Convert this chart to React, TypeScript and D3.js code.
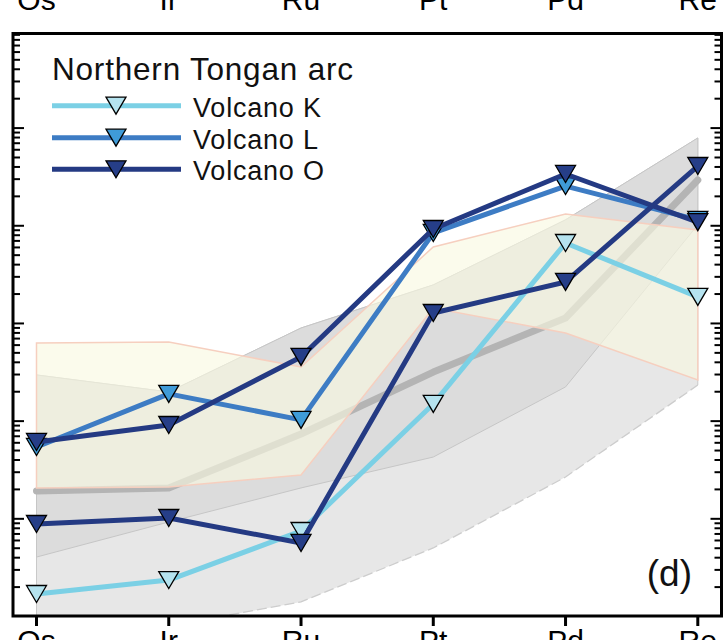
import React from "react";
import * as d3 from "d3";

// ---------- data ----------
const categories = ["Os", "Ir", "Ru", "Pt", "Pd", "Re"];

const volcanoK = [1.7e-5, 2.36e-5, 7.5e-5, 1.5e-3, 0.0666, 0.0187];
const volcanoL = [5.44e-4, 1.9e-3, 1.03e-3, 0.0844, 0.255, 0.115];
const volcanoO1 = [6.12e-4, 9.13e-4, 4.54e-3, 0.0927, 0.339, 0.109];
const volcanoO2 = [8.85e-5, 1.02e-4, 5.66e-5, 0.0128, 0.0266, 0.409];

// reference fields
const yellowUpper = [6.31e-3, 6.46e-3, 3.58e-3, 0.0607, 0.132, 0.0905];
const yellowLower = [2.07e-4, 2.12e-4, 2.81e-4, 0.0144, 7.99e-3, 2.64e-3];
const grayTop = [2.97e-3, 1.99e-3, 8.98e-3, 0.0248, 0.115, 0.792];
const grayInnerBottom = [4.06e-5, 9.28e-5, 2.07e-4, 4.29e-4, 2.24e-3, 0.102];
const grayOuterBottom = [4.54e-6, 7.99e-6, 1.41e-5, 5.03e-5, 2.68e-4, 2.34e-3];
const bandLine = [1.93e-4, 2.07e-4, 7.38e-4, 3.18e-3, 0.01137, 0.294];

const series = [
  { name: "Volcano K", values: volcanoK, line: "#7bd0e5", fill: "#b5e3ef", legend: true },
  { name: "Volcano L", values: volcanoL, line: "#3d7cc4", fill: "#3f9bd8", legend: true },
  { name: "Volcano O", values: volcanoO1, line: "#243a83", fill: "#263e88", legend: true },
  { name: "Volcano O", values: volcanoO2, line: "#243a83", fill: "#263e88", legend: false },
];

const FONT = "'Liberation Sans', Arial, sans-serif";

export default function App() {
  const W = 724;
  const H = 640;
  const frame = { left: 13, right: 721.5, top: 33.5, bottom: 616 };

  const x = d3.scalePoint<string>().domain(categories).range([36.5, 697.8]);
  const y = d3.scaleLog().domain([1e-5, 10]).range([616.5, 30.4]);

  const areaGen = (upper: number[], lower: number[]) =>
    d3
      .area<number>()
      .x((_, i) => x(categories[i]) as number)
      .y0((_, i) => y(lower[i]))
      .y1((_, i) => y(upper[i]))(categories.map((_, i) => i));

  const lineGen = (vals: number[]) =>
    d3
      .line<number>()
      .x((_, i) => x(categories[i]) as number)
      .y((v) => y(v))(vals);

  const tri = "M-10,-8.5L10,-8.5L0,8.5Z";

  const xs = categories.map((c) => x(c) as number);
  const outerTopPath =
    `M${xs[0]},${y(grayOuterBottom[0])}L${xs[0]},${y(grayTop[0])}` +
    grayTop.slice(1).map((v, i) => `L${xs[i + 1]},${y(v)}`).join("") +
    `L${xs[5]},${y(grayOuterBottom[5])}`;
  const outerBottomPath = lineGen(grayOuterBottom) as string;

  const ticks = y.ticks();
  const isMajor = (v: number) => Math.abs(Math.log10(v) - Math.round(Math.log10(v))) < 1e-9;
  const tickVals = ticks.filter((v) => y(v) > frame.top + 1 && y(v) < frame.bottom - 1);

  const legendY = [105.7, 137.7, 169.3];

  return (
    <svg
      width={W}
      height={H}
      style={{ position: "absolute", left: 0, top: 0, background: "#fff" }}
      fontFamily={FONT}
    >
      <defs>
        <clipPath id="plotClip">
          <rect
            x={frame.left}
            y={frame.top}
            width={frame.right - frame.left}
            height={frame.bottom - frame.top}
          />
        </clipPath>
      </defs>

      <g clipPath="url(#plotClip)">
        <path d={areaGen(grayTop, grayOuterBottom) as string} fill="#e7e7e7" stroke="none" />
        <path d={outerTopPath} fill="none" stroke="#c9c9c9" strokeWidth={1} />
        <path d={outerBottomPath} fill="none" stroke="#cdcdcd" strokeWidth={1.3} strokeDasharray="10 4" />
        <path
          d={areaGen(grayTop, grayInnerBottom) as string}
          fill="#dcdcdc"
          stroke="#c6c6c6"
          strokeWidth={1}
        />
        <path
          d={lineGen(bandLine) as string}
          fill="none"
          stroke="#b4b4b4"
          strokeWidth={7}
          strokeLinecap="round"
          strokeLinejoin="round"
        />
        <path
          d={areaGen(yellowUpper, yellowLower) as string}
          fill="rgb(249,249,225)"
          fillOpacity={0.63}
          stroke="#f6cfbf"
          strokeWidth={1.5}
        />
      </g>

      {series.map((s, si) => (
        <g key={si}>
          <path
            d={lineGen(s.values) as string}
            fill="none"
            stroke={s.line}
            strokeWidth={5}
            strokeLinejoin="round"
          />
          {s.values.map((v, i) => (
            <path
              key={i}
              d={tri}
              transform={`translate(${x(categories[i])},${y(v)})`}
              fill={s.fill}
              stroke="#000"
              strokeWidth={1.3}
            />
          ))}
        </g>
      ))}

      <rect
        x={frame.left}
        y={frame.top}
        width={frame.right - frame.left}
        height={frame.bottom - frame.top}
        fill="none"
        stroke="#000"
        strokeWidth={3}
      />

      {tickVals.map((v, i) => {
        const yy = y(v);
        const len = isMajor(v) ? 11 : 7;
        return (
          <g key={i}>
            <line x1={frame.left} x2={frame.left + len} y1={yy} y2={yy} stroke="#000" strokeWidth={2} />
            <line x1={frame.right} x2={frame.right - len} y1={yy} y2={yy} stroke="#000" strokeWidth={2} />
          </g>
        );
      })}

      {categories.map((c) => (
        <line
          key={c}
          x1={x(c)}
          x2={x(c)}
          y1={frame.bottom}
          y2={frame.bottom + 10}
          stroke="#000"
          strokeWidth={3}
        />
      ))}

      {categories.map((c) => (
        <text key={"t" + c} x={x(c)} y={10} fontSize={30} textAnchor="middle" fill="#000">
          {c}
        </text>
      ))}
      {categories.map((c) => (
        <text key={"b" + c} x={x(c)} y={651} fontSize={30} textAnchor="middle" fill="#000">
          {c}
        </text>
      ))}

      <text x={52} y={80} fontSize={31.5} letterSpacing={0.8} fill="#111">
        Northern Tongan arc
      </text>
      {series
        .filter((s) => s.legend)
        .map((s, i) => (
          <g key={"lg" + i}>
            <line x1={52} x2={181} y1={legendY[i]} y2={legendY[i]} stroke={s.line} strokeWidth={5} />
            <path d={tri} transform={`translate(116,${legendY[i]})`} fill={s.fill} stroke="#000" strokeWidth={1.3} />
            <text x={193} y={legendY[i] + 11} fontSize={27} letterSpacing={0.8} fill="#111">
              {s.name}
            </text>
          </g>
        ))}

      <text x={692} y={586} fontSize={37} textAnchor="end" fill="#111">
        (d)
      </text>
    </svg>
  );
}
